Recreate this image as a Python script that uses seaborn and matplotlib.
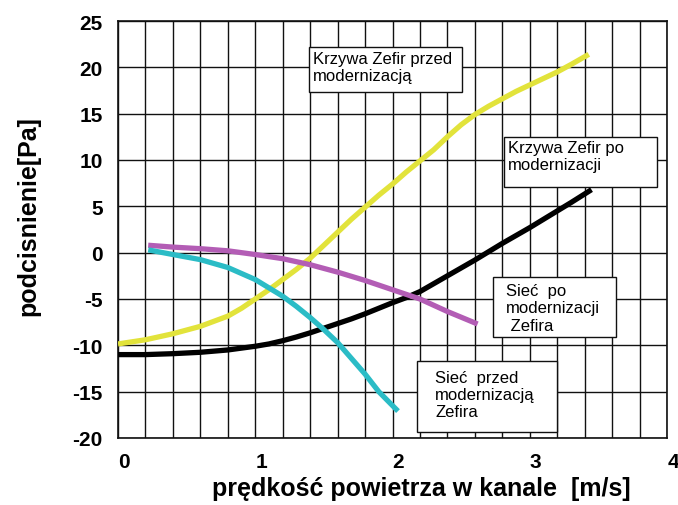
import numpy as np
import pandas as pd
import matplotlib
matplotlib.use("Agg")
import matplotlib.pyplot as plt
import matplotlib.transforms as mtransforms
from matplotlib.patches import Rectangle
import seaborn as sns

# ---- data ----
x_yellow = [0.0, 0.2, 0.4, 0.6, 0.8, 0.9, 1.0, 1.1, 1.2, 1.3, 1.4, 1.5, 1.6, 1.7, 1.8, 1.9, 2.0,
            2.1, 2.2, 2.3, 2.4, 2.5, 2.6, 2.7, 2.8, 2.9, 3.0, 3.1, 3.2, 3.3, 3.43]
y_yellow = [-9.85, -9.4, -8.75, -7.95, -6.85, -6.0, -5.0, -4.0, -2.9, -1.8, -0.6, 0.8, 2.2, 3.6, 4.9, 6.2, 7.4,
            8.7, 9.9, 11.1, 12.5, 13.8, 14.9, 15.8, 16.6, 17.4, 18.1, 18.8, 19.5, 20.3, 21.4]

x_black = [0.0, 0.2, 0.4, 0.6, 0.8, 1.0, 1.1, 1.2, 1.3, 1.4, 1.5, 1.6, 1.7, 1.8, 1.9, 2.0, 2.1, 2.2,
           2.3, 2.4, 2.5, 2.6, 2.7, 2.8, 2.9, 3.0, 3.1, 3.2, 3.3, 3.45]
y_black = [-11.0, -11.0, -10.9, -10.75, -10.5, -10.1, -9.85, -9.5, -9.1, -8.65, -8.15, -7.65, -7.15, -6.6, -6.0, -5.4,
           -4.85, -4.2, -3.35, -2.5, -1.65, -0.8, 0.1, 1.0, 1.85, 2.7, 3.6, 4.5, 5.4, 6.8]

x_magenta = [0.22, 0.4, 0.6, 0.8, 1.0, 1.2, 1.4, 1.6, 1.8, 2.0, 2.2, 2.4, 2.62]
y_magenta = [0.8, 0.6, 0.43, 0.2, -0.2, -0.65, -1.3, -2.1, -3.0, -4.0, -5.0, -6.35, -7.7]

x_cyan = [0.22, 0.4, 0.6, 0.8, 1.0, 1.1, 1.2, 1.3, 1.4, 1.5, 1.6, 1.7, 1.8, 1.9, 2.04]
y_cyan = [0.3, -0.2, -0.75, -1.6, -2.9, -3.8, -4.7, -5.8, -7.0, -8.3, -9.7, -11.4, -13.1, -15.0, -17.1]

x_ticks = [0, 1, 2, 3, 4]
y_ticks = [-20, -15, -10, -5, 0, 5, 10, 15, 20, 25]

label_zefir_przed = "Krzywa Zefir przed\nmodernizacją"
label_zefir_po = "Krzywa Zefir po\nmodernizacji"
label_siec_po = "Sieć  po\nmodernizacji\n Zefira"
label_siec_przed = "Sieć  przed\nmodernizacją\nZefira"

x_label = "prędkość powietrza w kanale  [m/s]"
y_label = "podcisnienie[Pa]"

# ---- style ----
sns.set_style("white")
plt.rcParams['font.family'] = ['Liberation Sans', 'DejaVu Sans']
plt.rcParams['text.color'] = 'black'
plt.rcParams['axes.labelcolor'] = 'black'
plt.rcParams['xtick.color'] = 'black'
plt.rcParams['ytick.color'] = 'black'

fig = plt.figure(figsize=(6.78, 5.06), dpi=100)
ax = fig.add_axes([118/678, 1-439/506, 549/678, 417/506])

series = [
    (x_yellow, y_yellow, "#e2e33b"),
    (x_black, y_black, "#000000"),
    (x_magenta, y_magenta, "#b35db5"),
    (x_cyan, y_cyan, "#2bbcc6"),
]
for xs, ys, col in series:
    df = pd.DataFrame({"x": xs, "y": ys})
    sns.lineplot(data=df, x="x", y="y", ax=ax, color=col, linewidth=3.8,
                 sort=False, estimator=None, zorder=5,
                 solid_capstyle='butt', solid_joinstyle='round')

ax.set_xlim(0, 4)
ax.set_ylim(-20, 25)
ax.set_xticks(x_ticks)
ax.set_xticks(np.arange(0, 4.001, 0.2), minor=True)
ax.set_yticks(y_ticks)
ax.set_xticklabels([str(v) for v in x_ticks])
ax.set_yticklabels([str(v) for v in y_ticks])
ax.tick_params(axis='both', which='both', length=0, colors='black')
ax.tick_params(axis='x', labelsize=15, pad=10)
ax.tick_params(axis='y', labelsize=15, pad=11)
for lab in ax.get_xticklabels() + ax.get_yticklabels():
    lab.set_fontweight('bold')
    lab.set_color('black')
off = mtransforms.ScaledTranslation(6/100, 0, fig.dpi_scale_trans)
for lab in ax.get_xticklabels():
    lab.set_transform(lab.get_transform() + off)

ax.set_axisbelow(True)
ax.grid(True, which='minor', axis='x', color='#111111', linewidth=1.0)
ax.grid(True, which='major', axis='x', color='#111111', linewidth=1.0)
ax.grid(True, which='major', axis='y', color='#111111', linewidth=1.0)
for sp in ax.spines.values():
    sp.set_color('#111111')
    sp.set_linewidth(1.2)

ax.set_xlabel(x_label, fontsize=18, fontweight='bold', color='black')
ax.set_ylabel(y_label, fontsize=18, fontweight='bold', color='black')
ax.xaxis.set_label_coords((421-118)/549, -0.09)
ax.yaxis.set_label_coords(-0.142, (439-216)/417)

boxes = [
    (1.39, 17.3, 2.51, 22.2, 1.42, 20.05, label_zefir_przed),
    (2.81, 7.1, 3.93, 12.5, 2.84, 10.4, label_zefir_po),
    (2.73, -9.1, 3.63, -2.6, 2.83, -5.95, label_siec_po),
    (2.18, -19.3, 3.20, -11.7, 2.31, -15.3, label_siec_przed),
]
for x0, y0, x1, y1, tx, ty, txt in boxes:
    ax.add_patch(Rectangle((x0, y0), x1 - x0, y1 - y0, facecolor='white',
                           edgecolor='#111111', linewidth=1.0, zorder=3))
    ax.text(tx, ty, txt, fontsize=12, ha='left', va='center',
            linespacing=1.2, zorder=4, color='black')

fig.savefig("out.png", dpi=100)
